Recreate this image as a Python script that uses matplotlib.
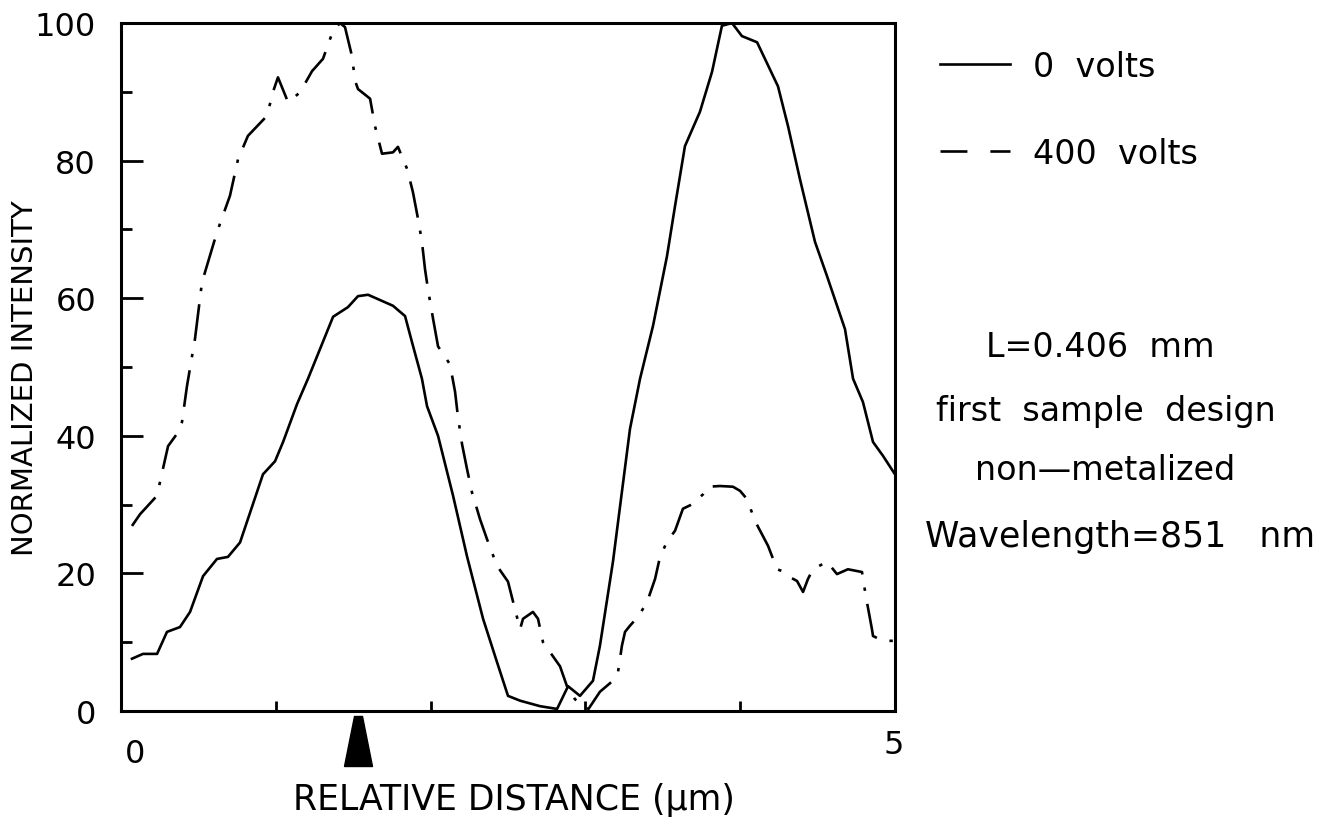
import matplotlib
matplotlib.use('Agg')
import matplotlib.pyplot as plt
from matplotlib.lines import Line2D
import numpy as np

# 0 volts (solid)
x0 = [0.071, 0.142, 0.233, 0.297, 0.381, 0.446, 0.530, 0.620, 0.691, 0.769,
      0.917, 0.995, 1.047, 1.137, 1.208, 1.370, 1.466, 1.531, 1.596, 1.757,
      1.835, 1.880, 1.944, 1.977, 2.048, 2.145, 2.235, 2.339, 2.429, 2.500,
      2.578, 2.707, 2.817, 2.888, 2.965, 3.049, 3.094, 3.178, 3.288, 3.353,
      3.437, 3.527, 3.579, 3.643, 3.740, 3.818, 3.882, 3.947, 4.011, 4.109,
      4.244, 4.309, 4.386, 4.483, 4.561, 4.677, 4.729, 4.793, 4.858, 4.922, 5.000]
y0 = [7.6, 8.3, 8.3, 11.5, 12.2, 14.4, 19.6, 22.1, 22.4, 24.5,
      34.4, 36.3, 39.1, 44.6, 48.3, 57.3, 58.7, 60.3, 60.5, 58.9,
      57.4, 53.6, 48.3, 44.3, 40.0, 31.3, 22.5, 13.4, 7.1, 2.2,
      1.5, 0.7, 0.3, 3.6, 2.2, 4.4, 9.5, 21.7, 41.0, 48.3,
      56.0, 66.1, 73.4, 82.1, 87.1, 92.9, 99.6, 100.0, 98.1, 97.2,
      90.8, 85.0, 77.3, 68.2, 63.2, 55.5, 48.3, 44.9, 39.1, 37.1, 34.4]

# 400 volts (dash-dot)
x400 = [0.071, 0.123, 0.233, 0.252, 0.304, 0.362, 0.394, 0.426, 0.478, 0.523,
        0.620, 0.704, 0.756, 0.820, 0.943, 0.982, 1.014, 1.079, 1.156, 1.234,
        1.305, 1.370, 1.415, 1.447, 1.492, 1.512, 1.531, 1.609, 1.641, 1.686,
        1.757, 1.789, 1.848, 1.886, 1.919, 1.944, 1.964, 1.983, 2.016, 2.048,
        2.125, 2.158, 2.177, 2.203, 2.235, 2.267, 2.319, 2.364, 2.429, 2.500,
        2.545, 2.578, 2.597, 2.661, 2.694, 2.726, 2.836, 2.881, 2.933, 3.020,
        3.094, 3.178, 3.211, 3.236, 3.256, 3.288, 3.340, 3.398, 3.450, 3.482,
        3.527, 3.579, 3.630, 3.695, 3.760, 3.792, 3.870, 3.953, 3.999, 4.044,
        4.096, 4.180, 4.238, 4.276, 4.309, 4.367, 4.406, 4.438, 4.470, 4.561,
        4.625, 4.696, 4.787, 4.793, 4.819, 4.851, 4.858, 4.922, 5.000]
y400 = [26.9, 28.6, 31.3, 33.3, 38.5, 40.3, 42.0, 47.2, 54.1, 62.3,
        69.6, 74.9, 80.2, 83.6, 86.5, 90.0, 92.1, 88.5, 89.9, 93.0,
        94.8, 98.9, 100.0, 99.4, 95.2, 91.6, 90.4, 89.0, 85.0, 81.0,
        81.2, 82.0, 78.8, 75.4, 71.5, 68.2, 64.2, 61.3, 57.0, 53.0,
        50.4, 46.4, 42.7, 38.8, 35.2, 31.8, 27.9, 25.0, 21.1, 18.8,
        14.8, 11.9, 13.4, 14.4, 13.4, 10.0, 6.5, 3.6, 1.7, 0.3,
        2.8, 4.4, 5.7, 9.5, 11.5, 12.4, 13.7, 15.8, 19.2, 22.4,
        24.6, 26.2, 29.4, 30.1, 31.5, 32.6, 32.7, 32.6, 32.0, 30.8,
        27.6, 24.0, 20.6, 20.3, 19.6, 18.9, 17.3, 19.2, 20.6, 21.7,
        19.9, 20.6, 20.2, 19.2, 15.8, 11.9, 10.9, 10.2, 10.2]

arrow_x = 1.53
notes = ['L=0.406  mm', 'first  sample  design', 'non\u2014metalized', 'Wavelength=851   nm']

plt.rcParams['font.family'] = 'DejaVu Sans'
fig = plt.figure(figsize=(13.32, 8.37), dpi=100)
ax = fig.add_axes([121/1332, 1-712/837, 774/1332, 688/837])

l1, = ax.plot(x0, y0, '-k', lw=1.9)
l2, = ax.plot(x400, y400, '-k', lw=1.9)
l2.set_dashes((14, 5, 1.3, 5))

# arrow marker under the axis
tri = [(-0.28, -0.5), (0.28, -0.5), (0.08, 0.5), (-0.08, 0.5), (-0.28, -0.5)]
ax.plot([arrow_x], [-4.4], marker=tri, ms=36, color='k', clip_on=False)

ax.set_xlim(0, 5)
ax.set_ylim(0, 100)
ax.set_xticks([])
ax.set_xticks([1, 2, 3, 4], minor=True)
ax.set_yticks([0, 20, 40, 60, 80, 100])
ax.set_yticks([10, 30, 50, 70, 90], minor=True)
ax.tick_params(axis='y', which='major', direction='in', length=16, width=2, labelsize=23, pad=18)
ax.tick_params(axis='y', which='minor', direction='in', length=8, width=2)
ax.tick_params(axis='x', which='minor', direction='in', length=7, width=2)
for s in ax.spines.values():
    s.set_linewidth(2.2)

# x labels sit a bit off the ends in the original
ax.text(0.09, -0.062, '0', fontsize=23, ha='center', va='center', transform=ax.get_xaxis_transform())
ax.text(4.99, -0.048, '5', fontsize=23, ha='center', va='center', transform=ax.get_xaxis_transform())

fig.text(514/1332, 1-800/837, 'RELATIVE DISTANCE (\u00b5m)', fontsize=25, ha='center', va='center')
fig.text(25/1332, 1-378/837, 'NORMALIZED INTENSITY', fontsize=21, rotation=90, ha='center', va='center')

# legend sample for the dashed line drawn as "— –" like the original
h2 = Line2D([], [], color='k', lw=1.9, dashes=(10.2, 8.7))
ax.legend([l1, h2], ['0  volts', '400  volts'], loc='upper left', bbox_to_anchor=(1.0365, 0.985),
          frameon=False, fontsize=24, handlelength=2.1, handletextpad=0.7, labelspacing=1.62, borderpad=0)

ys = [348, 412, 470, 537]
xs = [1100, 1106, 1105, 1120]
fs = [24, 24, 24, 25]
for t, xx, yy, f in zip(notes, xs, ys, fs):
    fig.text(xx/1332, 1-yy/837, t, fontsize=f, ha='center', va='center')

plt.savefig('out.png', dpi=100)
